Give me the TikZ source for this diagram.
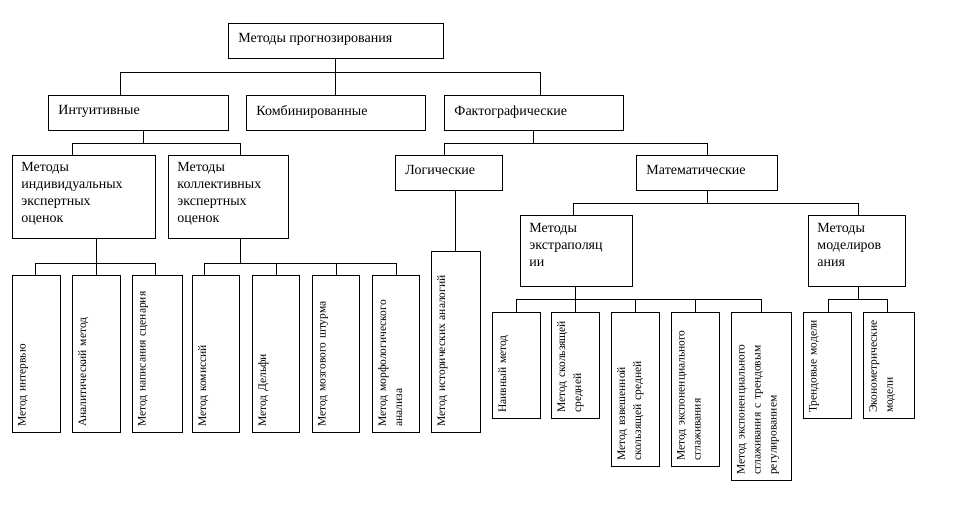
\documentclass[tikz,border=0pt]{standalone}
\usepackage{fontspec}
\setmainfont{Liberation Serif}
\begin{document}
\begin{tikzpicture}[x=1pt,y=-1pt,
  bx/.style={draw,line width=0.9pt},
  ln/.style={line width=0.9pt},
  lt/.style={anchor=north west,align=left,inner sep=0pt,font=\fontsize{14}{17}\selectfont},
  vt/.style={rotate=90,anchor=north west,align=left,inner sep=0pt,font=\fontsize{11.5}{16}\selectfont}]
\useasboundingbox (0,0) rectangle (975,516);
\draw[bx] (228,23) rectangle (443,58) node[lt] (top) at (238,33) {Методы прогнозирования};
\draw[bx] (48,95) rectangle (228,130) node[lt] (int) at (58,105) {Интуитивные};
\draw[bx] (246,95) rectangle (425,130) node[lt] (komb) at (256,105) {Комбинированные};
\draw[bx] (444,95) rectangle (623,130) node[lt] (fak) at (454,105) {Фактографические};
\draw[bx] (12,155) rectangle (155,238) node[lt] (ind) at (21,162) {Методы\\индивидуальных\\экспертных\\оценок};
\draw[bx] (168,155) rectangle (288,238) node[lt] (kol) at (177,162) {Методы\\коллективных\\экспертных\\оценок};
\draw[bx] (395,155) rectangle (502,190) node[lt] (log) at (405,165) {Логические};
\draw[bx] (636,155) rectangle (777,190) node[lt] (mat) at (646,165) {Математические};
\draw[bx] (520,215) rectangle (632,286) node[lt] (ex) at (529,223) {Методы\\экстраполяц\\ии};
\draw[bx] (808,215) rectangle (905,286) node[lt] (mod) at (817,223) {Методы\\моделиров\\ания};
\newcommand{\leaf}[5]{\draw[bx] (#1,#2) rectangle (#3,#4); \node[vt,text width={#4-#2-8}] at (#1+6,#4-5) {#5};}
\leaf{12}{275}{60}{432}{Метод интервью}
\leaf{72}{275}{120}{432}{Аналитический метод}
\leaf{132}{275}{182}{432}{Метод написания сценария}
\leaf{192}{275}{239}{432}{Метод комиссий}
\leaf{252}{275}{299}{432}{Метод Дельфи}
\leaf{312}{275}{359}{432}{Метод мозгового штурма}
\leaf{372}{275}{419}{432}{Метод морфологического анализа}
\leaf{431}{251}{480}{432}{Метод исторических аналогий}
\leaf{492}{312}{540}{418}{Наивный метод}
\leaf{551}{312}{599}{418}{Метод скользящей средней}
\leaf{611}{312}{659}{466}{Метод взвешенной скользящей средней}
\leaf{671}{312}{719}{466}{Метод экспоненциального сглаживания}
\leaf{731}{312}{791}{480}{Метод экспоненциального сглаживания с трендовым регулированием}
\leaf{803}{312}{851}{418}{Трендовые модели}
\leaf{863}{312}{914}{418}{Эконометрические модели}
\draw[ln] (335,58) -- (335,72);
\draw[ln] (120,95) -- (120,72) -- (540,72) -- (540,95);
\draw[ln] (335,72) -- (335,95);
\draw[ln] (143,130) -- (143,143);
\draw[ln] (72,155) -- (72,143) -- (240,143) -- (240,155);
\draw[ln] (533,130) -- (533,143);
\draw[ln] (444,155) -- (444,143) -- (707,143) -- (707,155);
\draw[ln] (455,190) -- (455,251);
\draw[ln] (707,190) -- (707,203);
\draw[ln] (573,215) -- (573,203) -- (858,203) -- (858,215);
\draw[ln] (96,238) -- (96,263);
\draw[ln] (35,275) -- (35,263) -- (155,263) -- (155,275);
\draw[ln] (96,263) -- (96,275);
\draw[ln] (240,238) -- (240,263);
\draw[ln] (204,275) -- (204,263) -- (396,263) -- (396,275);
\foreach \x in {276,336} \draw[ln] (\x,263) -- (\x,275);
\draw[ln] (575,286) -- (575,299);
\draw[ln] (516,312) -- (516,299) -- (761,299);
\foreach \x in {575,635,695,761} \draw[ln] (\x,299) -- (\x,312);
\draw[ln] (858,286) -- (858,299);
\draw[ln] (828,312) -- (828,299) -- (887,299) -- (887,312);
\end{tikzpicture}
\end{document}
